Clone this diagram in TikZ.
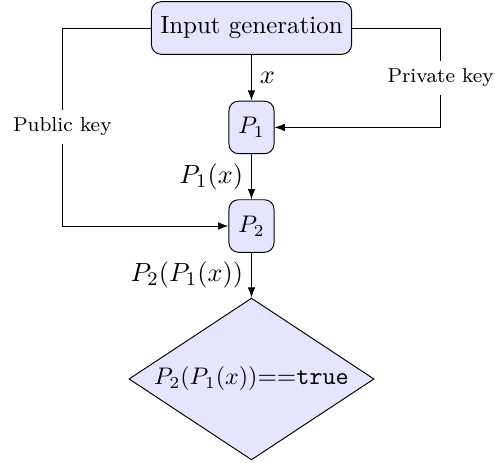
\documentclass[tikz,border=0pt]{standalone}
\usepackage{amsmath}
\usetikzlibrary{calc, positioning}
\usetikzlibrary{arrows.meta}
\usetikzlibrary{shapes.geometric}

\tikzset{
  block/.style={draw, rounded corners=4pt, fill=blue!10, minimum height=0.77cm,
    font=\fontsize{10.4}{12.5}\selectfont},
  keylabel/.style={fill=white, font=\fontsize{8.4}{10}\selectfont},
  edgelabel/.style={font=\fontsize{11.3}{13.5}\selectfont},
  check/.style={draw, diamond, fill=blue!10, aspect=1.5, inner sep=0pt,
    minimum width=3.59cm, minimum height=2.37cm, font=\fontsize{10.4}{12.5}\selectfont},
  flow/.style={-{Latex[length=1.5mm, width=1.1mm]}}
}

\begin{document}
\begin{tikzpicture}
\def\xside{2.77}
\useasboundingbox (-3.683,0.41) rectangle (3.566,-6.356);

\node[block, minimum width=2.93cm] (gen) at (0,0) {Input generation};
\node[block, minimum width=0.66cm] (p1) at (0,-1.456) {$P_1$};
\node[block, minimum width=0.66cm] (p2) at (0,-2.90) {$P_2$};
\node[check] (test) at (0,-5.14) {$P_2(P_1(x))$==\texttt{true}};

\coordinate (PubCorner) at (-\xside,0);
\coordinate (PrivCorner) at (\xside,0);

\draw[flow] (gen) -- node[edgelabel, right] (xlab) {$x$} (p1);
\draw[flow] (p1) -- node[edgelabel, left] (p1lab) {$P_1(x)$} (p2);
\draw[flow] (p2) -- node[edgelabel, left] (p2lab) {$P_2(P_1(x))$} (test);

\draw[flow] (gen.west) -- (PubCorner) |- node[keylabel, pos=0.25] (publab) {Public key} (p2.west);
\draw[flow] (gen.east) -- (PrivCorner) |- node[keylabel, pos=0.25] (privlab) {Private key} (p1.east);
\end{tikzpicture}
\end{document}
